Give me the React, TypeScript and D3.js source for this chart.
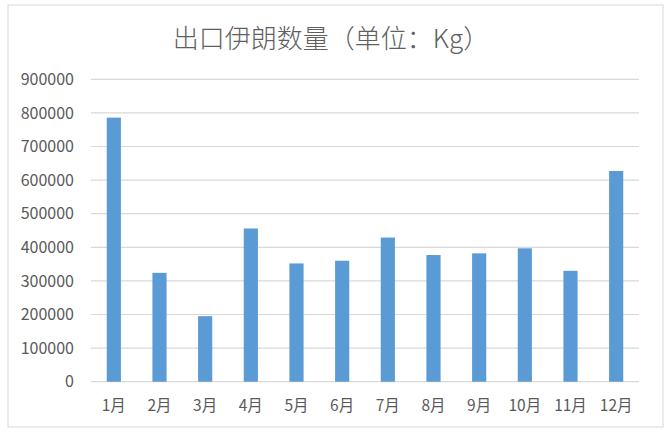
import React from "react";
import * as d3 from "d3";

const months = ["1月", "2月", "3月", "4月", "5月", "6月", "7月", "8月", "9月", "10月", "11月", "12月"];
const values = [786000, 324000, 195000, 456000, 352000, 360000, 429000, 377000, 382000, 397000, 330000, 627000];
const yTicks = [0, 100000, 200000, 300000, 400000, 500000, 600000, 700000, 800000, 900000];
const title = "出口伊朗数量（单位：Kg）";

export default function App() {
  const W = 671, H = 434;
  const left = 91, right = 639, top = 79.3, bottom = 381.7;
  const x = d3.scaleBand<string>().domain(months).range([left, right]).paddingInner(0.69).paddingOuter(0.345);
  const y = d3.scaleLinear().domain([0, 900000]).range([bottom, top]);
  const font = "'Noto Sans CJK SC', 'Microsoft YaHei', sans-serif";
  return (
    <svg width={W} height={H} style={{ position: "absolute", left: 0, top: 0, background: "#fff" }}>
      <rect x={8} y={5} width={655} height={422} fill="#fff" stroke="#d9d9d9" strokeWidth={1} />
      <text x={331} y={48} textAnchor="middle" fontFamily={font} fontSize={26} fontWeight={300} fill="#5f5f5f">{title}</text>
      {yTicks.map((t) => (
        <g key={t}>
          <line x1={left} x2={right} y1={y(t)} y2={y(t)} stroke="#d9d9d9" strokeWidth={1.2} />
          <text x={74} y={y(t)} dy="0.35em" textAnchor="end" fontFamily={font} fontSize={16} fill="#595959">{t}</text>
        </g>
      ))}
      {months.map((m, i) => (
        <rect key={m} x={x(m)} y={y(values[i])} width={x.bandwidth()} height={y(0) - y(values[i])} fill="#5b9bd5" />
      ))}
      {months.map((m) => (
        <text key={m} x={(x(m) as number) + x.bandwidth() / 2} y={406} dy="0.35em" textAnchor="middle" fontFamily={font} fontSize={15.5} fill="#595959">{m}</text>
      ))}
    </svg>
  );
}
